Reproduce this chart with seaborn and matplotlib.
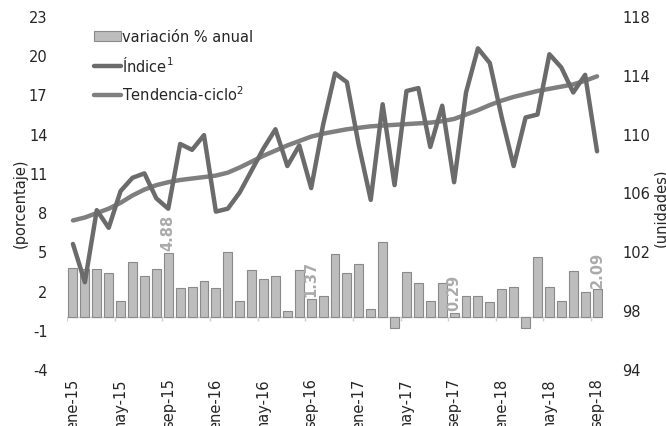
import matplotlib
matplotlib.use('Agg')
import matplotlib.pyplot as plt
import seaborn as sns
import numpy as np
import pandas as pd
from matplotlib.patches import Patch
from matplotlib.lines import Line2D

# ---------------- data ----------------
mes_abrev = ['ene', 'feb', 'mar', 'abr', 'may', 'jun', 'jul', 'ago', 'sep', 'oct', 'nov', 'dic']
years = ['15', '16', '17', '18']
months = [f'{m}-{y}' for y in years for m in mes_abrev][:45]   # ene-15 ... sep-18

var_anual = [3.70, 3.65, 3.65, 3.35, 1.20, 4.20, 3.15, 3.65, 4.88, 2.20,
             2.30, 2.70, 2.20, 4.95, 1.20, 3.60, 2.90, 3.10, 0.45, 3.60,
             1.37, 1.55, 4.78, 3.35, 4.00, 0.60, 5.70, -0.85, 3.45, 2.55,
             1.20, 2.55, 0.29, 1.60, 1.62, 1.15, 2.10, 2.30, -0.85, 4.60,
             2.30, 1.20, 3.50, 1.90, 2.09]

indice = [102.5, 99.9, 104.8, 103.6, 106.1, 107.0, 107.3, 105.6, 104.9, 109.3,
          108.9, 109.9, 104.7, 104.9, 106.0, 107.5, 109.0, 110.3, 107.8, 109.2,
          106.3, 110.6, 114.1, 113.5, 109.2, 105.5, 112.0, 106.5, 112.9, 113.1,
          109.1, 111.9, 106.7, 112.8, 115.8, 114.8, 111.1, 107.8, 111.1, 111.3,
          115.4, 114.5, 112.8, 114.0, 108.8]

tendencia = [104.1, 104.3, 104.6, 104.9, 105.3, 105.8, 106.2, 106.5, 106.7, 106.85,
             106.95, 107.05, 107.15, 107.35, 107.7, 108.1, 108.5, 108.85, 109.2, 109.5,
             109.8, 110.0, 110.15, 110.3, 110.4, 110.5, 110.55, 110.6, 110.65, 110.7,
             110.75, 110.85, 111.0, 111.3, 111.6, 111.95, 112.25, 112.5, 112.7, 112.9,
             113.05, 113.2, 113.35, 113.6, 113.9]

left_ticks = [-4, -1, 2, 5, 8, 11, 14, 17, 20, 23]
right_ticks = [94, 98, 102, 106, 110, 114, 118]
legend_labels = ['variación % anual', 'Índice$^1$', 'Tendencia-ciclo$^2$']

n = len(months)
df = pd.DataFrame({'mes': months, 'var': var_anual, 'indice': indice,
                   'tend': tendencia, 'pos': np.arange(n)})

# ---------------- style ----------------
sns.set_theme(style='white')
plt.rcParams['font.family'] = ['DejaVu Sans']
TXT = '#262626'
BAR = '#bdbdbd'
BAR_EDGE = '#8a8a8a'
C_IND = '#6b6b6b'
C_TEN = '#7f7f7f'
FS = 10.5

fig = plt.figure(figsize=(6.66, 4.27), dpi=100)
ax = fig.add_axes([67 / 666, 1 - 370 / 427, 536 / 666, 353 / 427])

sns.barplot(data=df, x='mes', y='var', ax=ax, color=BAR, saturation=1,
            width=0.75, edgecolor=BAR_EDGE, linewidth=0.8, zorder=2)

ax.set_xlim(-0.5, n - 0.5)
ax.set_ylim(left_ticks[0], left_ticks[-1])
ax.set_yticks(left_ticks)
ax.set_yticklabels([str(t) for t in left_ticks], fontsize=FS, color=TXT)
ax.set_xticks(np.arange(0, n, 4))
ax.set_xticklabels(months[::4], rotation=90, fontsize=FS, color=TXT, va='top')
ax.tick_params(axis='x', length=0, pad=6)
ax.tick_params(axis='y', length=0, pad=14)
ax.set_xlabel('')
ax.set_ylabel('')
for s in ax.spines.values():
    s.set_visible(False)

# category axis line at zero with tick marks at category boundaries
ax.axhline(0, color='#d0d0d0', lw=1, zorder=1)
ax.vlines(np.arange(0, n, 4) - 0.5, -0.3, 0, color='#d0d0d0', lw=1, zorder=1)

# data labels (September values)
for i, (m, v) in enumerate(zip(months, var_anual)):
    if m.startswith('sep'):
        ax.annotate(f'{v:.2f}', (i, v), xytext=(0, 2), textcoords='offset points',
                    rotation=90, ha='center', va='bottom', color='#ababab',
                    fontsize=FS, fontweight='bold', zorder=3)

# right axis: index and trend-cycle
ax2 = ax.twinx()
sns.lineplot(data=df, x='pos', y='tend', ax=ax2, color=C_TEN, lw=3.2)
sns.lineplot(data=df, x='pos', y='indice', ax=ax2, color=C_IND, lw=3.2)
ax2.set_xlim(-0.5, n - 0.5)
ax2.set_ylim(right_ticks[0], right_ticks[-1])
ax2.set_yticks(right_ticks)
ax2.set_yticklabels([str(t) for t in right_ticks], fontsize=FS, color=TXT)
ax2.tick_params(axis='y', length=0, pad=14)
ax2.set_xlabel('')
ax2.set_ylabel('')
for s in ax2.spines.values():
    s.set_visible(False)

handles = [Patch(facecolor=BAR, edgecolor=BAR_EDGE, lw=0.8),
           Line2D([], [], color=C_IND, lw=3.2),
           Line2D([], [], color=C_TEN, lw=3.2)]
ax2.legend(handles, legend_labels, loc='upper left', bbox_to_anchor=(0.045, 0.972),
           frameon=False, fontsize=FS, handlelength=1.85, handletextpad=0.1,
           labelspacing=0.75, borderaxespad=0, borderpad=0.2, labelcolor=TXT)

fig.text(20 / 666, 1 - 203 / 427, '(porcentaje)', rotation=90, ha='center',
         va='center', fontsize=FS, color=TXT)
fig.text(661 / 666, 1 - 208 / 427, '(unidades)', rotation=90, ha='center',
         va='center', fontsize=FS, color=TXT)

fig.savefig('out.png', dpi=100)
